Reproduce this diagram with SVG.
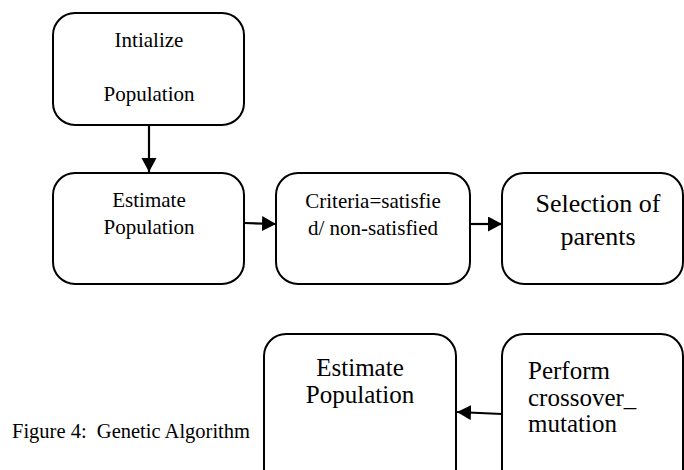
<svg xmlns="http://www.w3.org/2000/svg" width="684" height="470" viewBox="0 0 684 470">
  <style>
    .box { fill: #fff; stroke: #000; stroke-width: 2; }
    .edge { stroke: #000; stroke-width: 2.2; fill: none; marker-end: url(#head); }
  </style>
  <defs>
    <marker id="head" markerUnits="userSpaceOnUse" markerWidth="15" markerHeight="16" refX="14" refY="7.5" orient="auto">
      <path d="M0,0 L14,7.5 L0,15 z" fill="#000"/>
    </marker>
  </defs>
  <rect width="684" height="470" fill="#fff"/>

  <g font-family="'Liberation Serif', 'Times New Roman', 'DejaVu Serif', serif" fill="#000">
    <g id="init-population" font-size="21" text-anchor="middle">
      <rect class="box" x="53" y="13" width="191" height="112" rx="22"/>
      <text x="149" y="47">Intialize</text>
      <text x="149" y="101">Population</text>
    </g>

    <g id="estimate-population-1" font-size="21" text-anchor="middle">
      <rect class="box" x="53" y="173" width="191" height="111" rx="22"/>
      <text x="149" y="207">Estimate</text>
      <text x="149" y="234">Population</text>
    </g>

    <g id="criteria" font-size="21" text-anchor="middle">
      <rect class="box" x="276" y="173" width="194" height="111" rx="22"/>
      <text x="373" y="208">Criteria=satisfie</text>
      <text x="373" y="235">d/ non-satisfied</text>
    </g>

    <g id="selection" font-size="26" text-anchor="middle">
      <rect class="box" x="502" y="173" width="181" height="111" rx="22"/>
      <text x="598" y="212">Selection of</text>
      <text x="598" y="245">parents</text>
    </g>

    <g id="estimate-population-2" font-size="25" text-anchor="middle">
      <rect class="box" x="264" y="334" width="192" height="170" rx="22"/>
      <text x="360" y="376">Estimate</text>
      <text x="360" y="403">Population</text>
    </g>

    <g id="crossover-mutation" font-size="25">
      <rect class="box" x="502" y="334" width="181" height="170" rx="22"/>
      <text x="528" y="379">Perform</text>
      <text x="528" y="406">crossover_</text>
      <text x="528" y="432">mutation</text>
    </g>

    <text id="caption" x="12" y="438" font-size="20.5" xml:space="preserve">Figure 4:  Genetic Algorithm</text>
  </g>

  <g id="connectors">
    <line class="edge" x1="149" y1="125" x2="149" y2="172"/>
    <line class="edge" x1="245" y1="223" x2="276" y2="224"/>
    <line class="edge" x1="471" y1="224" x2="502" y2="224"/>
    <line class="edge" x1="502" y1="414" x2="457" y2="412"/>
  </g>
</svg>
